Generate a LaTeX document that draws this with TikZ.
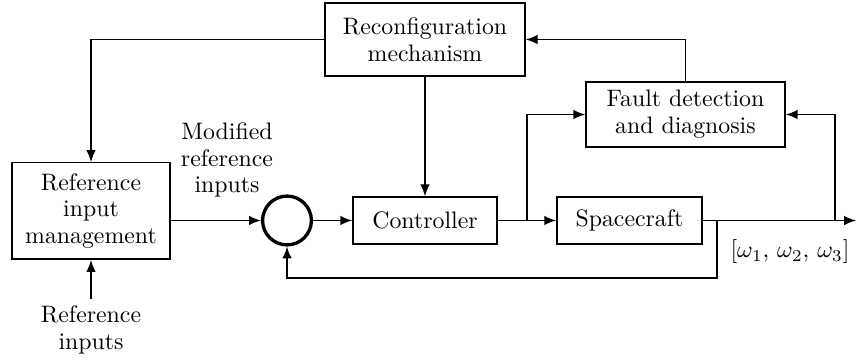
\documentclass[tikz,border=0pt]{standalone}
\usetikzlibrary{arrows.meta,calc}
\begin{document}
\begin{tikzpicture}[x=0.42pt,y=-0.42pt,
  font=\fontsize{10}{11.2}\selectfont,
  blk/.style={draw,line width=0.6pt,align=center,inner sep=0pt},
  lbl/.style={align=center,inner sep=0pt},
  conn/.style={line width=0.6pt,-{Latex[length=5pt,width=4pt]}}]
\useasboundingbox (0,0) rectangle (856,362);

% blocks
\node[blk,minimum width=84pt,minimum height=30.5pt] (rec) at (425,39.5) {Reconfiguration\\mechanism};
\node[blk,minimum width=83.6pt,minimum height=27.3pt] (fdd) at (685.5,114.5) {Fault detection\\and diagnosis};
\node[blk,minimum width=66.4pt,minimum height=40.5pt] (rim) at (91,211) {Reference\\input\\management};
\node[draw,circle,line width=1.4pt,minimum size=20.5pt,inner sep=0pt] (sum) at (287,220.5) {};
\node[blk,minimum width=60.5pt,minimum height=19.7pt] (ctl) at (425,220.5) {Controller};
\node[blk,minimum width=61pt,minimum height=19.7pt] (sc) at (629.5,220.5) {Spacecraft};

% labels
\node[lbl] (mri) at (227,160) {Modified\\reference\\inputs};
\node[lbl] (ri) at (91,330) {Reference\\inputs};
\node[lbl] (om) at (790,252) {$[\omega_1,\,\omega_2,\,\omega_3]$};

% junctions and free ends
\coordinate (jc) at (527,220.5);
\coordinate (jo) at (717,220.5);
\coordinate (jf) at (835,220.5);
\coordinate (out) at (856,220.5);
\coordinate (rin) at (91,299);

% forward path
\draw[conn] (rim.east |- sum) -- (sum.west);
\draw[conn] (sum.east) -- (ctl.west);
\draw[conn] (ctl.east) -- (sc.west);
\draw[conn] (sc.east) -- (out);
\draw[conn] (rin) -- (rim.south);

% feedback to the summing junction
\draw[conn] (jo) -- (717,278) -- (sum.center |- 0,278) -- (sum.south);

% fault detection inputs
\draw[conn] (jc) |- (fdd.west);
\draw[conn] (jf) |- (fdd.east);

% reconfiguration paths
\draw[conn] (fdd.north) |- (rec.east);
\draw[conn] (rec.west) -| (rim.north);
\draw[conn] (rec.south) -- (ctl.north);
\end{tikzpicture}
\end{document}
